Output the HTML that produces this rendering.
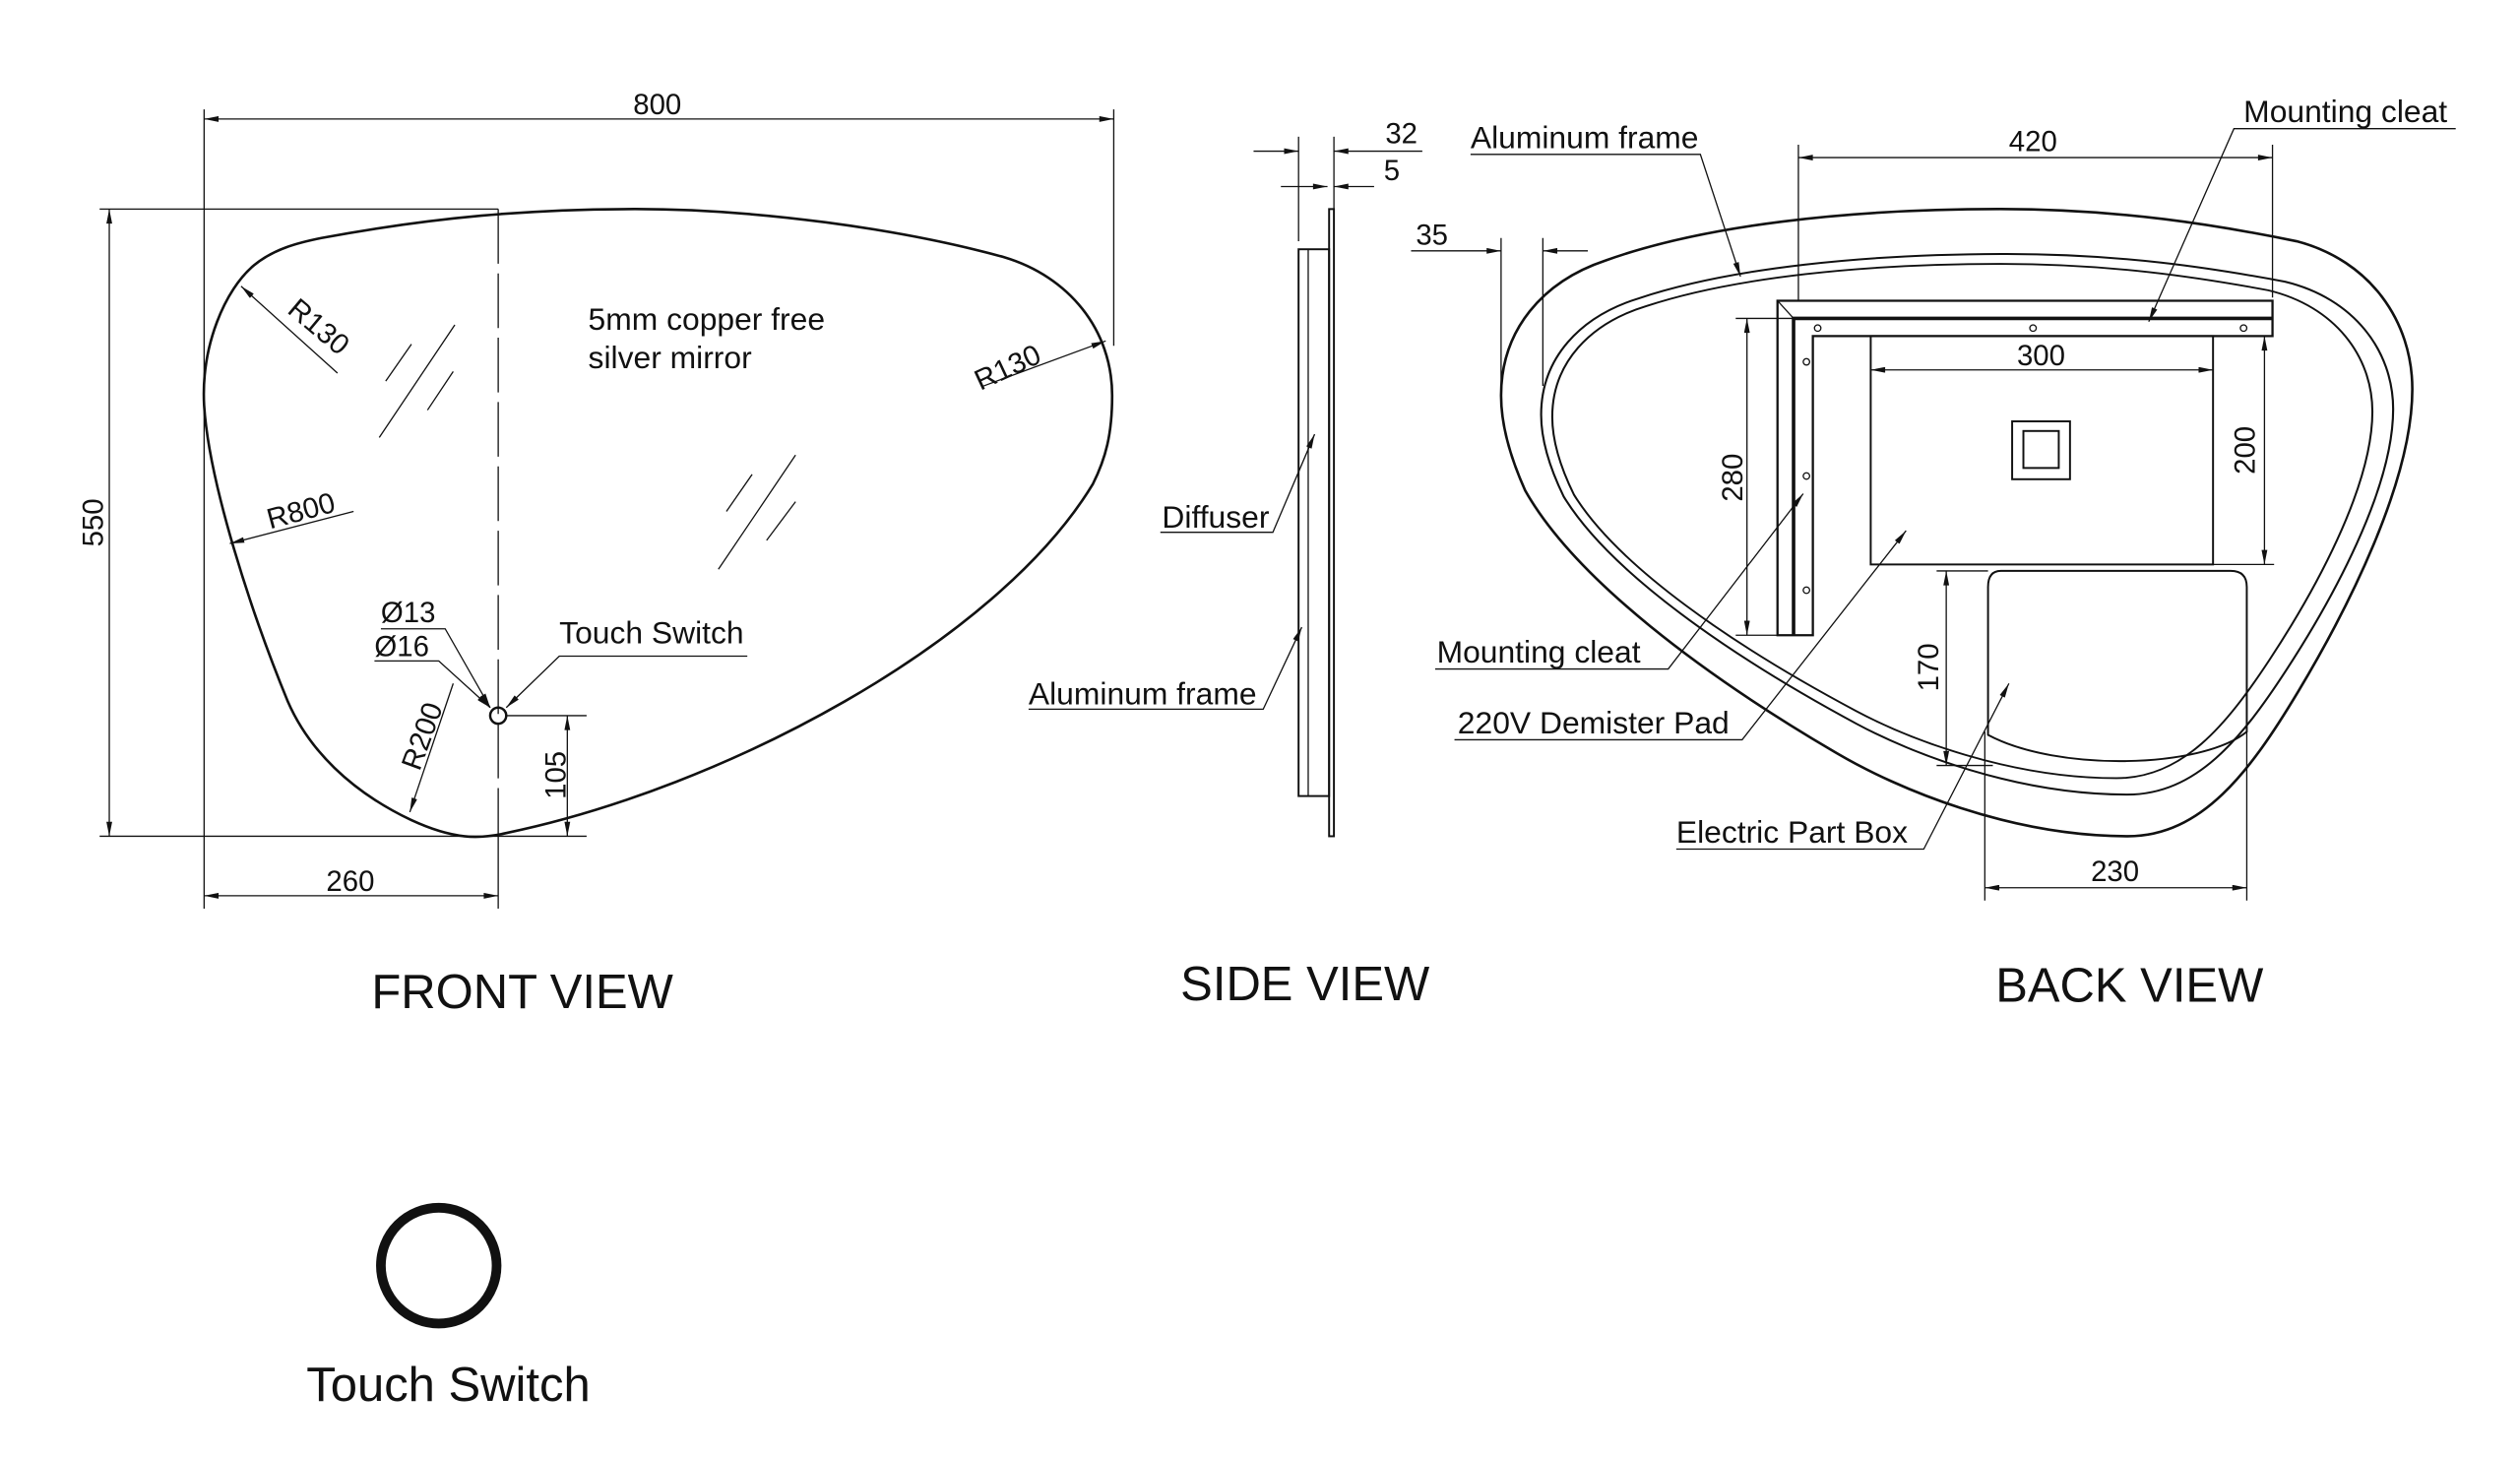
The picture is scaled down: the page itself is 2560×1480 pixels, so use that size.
<!DOCTYPE html>
<html><head><meta charset="utf-8"><style>
html,body{margin:0;padding:0;background:#fff;}
svg{display:block;}
text{font-family:"Liberation Sans",sans-serif;fill:#111;}
</style></head><body>
<svg width="2560" height="1480" viewBox="0 0 1568 906" preserveAspectRatio="none" xmlns="http://www.w3.org/2000/svg">
<defs>
<marker id="a" viewBox="0 0 10 4" refX="10" refY="2" markerWidth="10" markerHeight="3.6" markerUnits="userSpaceOnUse" orient="auto-start-reverse"><path d="M0,0 L10,2 L0,4z" fill="#111"/></marker>
<path id="shape" d="M999,162 C1060,140 1150,130 1244,130 C1320,130 1380,140 1429,150 C1475,162 1501,200 1501,242 C1501,300 1460,380 1430,430 C1400,480 1370,520 1324,520 C1250,520 1180,490 1144,469 C1060,420 980,360 949,305 C940,285 934,265 934,246 C934,205 960,175 999,162 Z"/>
</defs>
<rect width="1568" height="906" fill="#fff"/>
<g fill="none" stroke="#111" stroke-width="0.8">
<path d="M200,148 C270,135 330,130 395,130 C470,130 560,142 625,160 C665,172 692,205 692,246 C692,270 688,285 680,301 C620,400 450,490 315,518 C298,522 282,522 256,510 C218,492 192,466 179,436 C156,380 130,300 127,252 C125,215 140,180 158,165 C170,155 185,151 200,148 Z" stroke-width="1.6"/>
<line x1="310" y1="130" x2="310" y2="520" stroke-dasharray="34,6"/>
<line x1="127" y1="68" x2="127" y2="565"/>
<line x1="693" y1="68" x2="693" y2="215"/>
<line x1="127" y1="74" x2="693" y2="74" marker-start="url(#a)" marker-end="url(#a)"/>
<line x1="62" y1="130" x2="310" y2="130"/>
<line x1="62" y1="520" x2="365" y2="520"/>
<line x1="68" y1="130" x2="68" y2="520" marker-start="url(#a)" marker-end="url(#a)"/>
<line x1="310" y1="520" x2="310" y2="565"/>
<line x1="127" y1="557" x2="310" y2="557" marker-start="url(#a)" marker-end="url(#a)"/>
<circle cx="310" cy="445" r="5" stroke-width="1.5"/>
<line x1="315" y1="445" x2="365" y2="445"/>
<line x1="353" y1="445" x2="353" y2="520" marker-start="url(#a)" marker-end="url(#a)"/>
<polyline points="237,391 277,391 305,440" marker-end="url(#a)"/>
<polyline points="233,411 273,411 305,440" marker-end="url(#a)"/>
<polyline points="465,408 348,408 315,440" marker-end="url(#a)"/>
<line x1="210" y1="232" x2="150" y2="178" marker-end="url(#a)"/>
<line x1="612" y1="240" x2="688" y2="212" marker-end="url(#a)"/>
<line x1="220" y1="318" x2="143" y2="338" marker-end="url(#a)"/>
<line x1="282" y1="425" x2="255" y2="505" marker-end="url(#a)"/>
<line x1="240" y1="237" x2="256" y2="214"/><line x1="236" y1="272" x2="283" y2="202"/><line x1="266" y1="255" x2="282" y2="231"/>
<line x1="452" y1="318" x2="468" y2="295"/><line x1="447" y1="354" x2="495" y2="283"/><line x1="477" y1="336" x2="495" y2="312"/>
<circle cx="273" cy="787" r="36" stroke-width="6"/>
<rect x="827" y="130" width="3" height="390" stroke-width="1.2"/>
<rect x="808" y="155" width="19" height="340" stroke-width="1.2"/>
<line x1="814" y1="155" x2="814" y2="495"/>
<line x1="808" y1="85" x2="808" y2="150"/>
<line x1="830" y1="85" x2="830" y2="130"/>
<line x1="780" y1="94" x2="808" y2="94" marker-end="url(#a)"/>
<line x1="885" y1="94" x2="830" y2="94" marker-end="url(#a)"/>
<line x1="797" y1="116" x2="826" y2="116" marker-end="url(#a)"/>
<line x1="855" y1="116" x2="830" y2="116" marker-end="url(#a)"/>
<polyline points="722,331 792,331 818,270" marker-end="url(#a)"/>
<polyline points="640,441 786,441 810,390" marker-end="url(#a)"/>
<use href="#shape" stroke-width="1.6"/>
<use href="#shape" transform="translate(1224,326) scale(0.935,0.862) translate(-1217.5,-325)" vector-effect="non-scaling-stroke" stroke-width="1.4"/>
<use href="#shape" transform="translate(1221,324) scale(0.9,0.82) translate(-1217.5,-325)" vector-effect="non-scaling-stroke" stroke-width="1.4"/>
<path d="M1106,187 H1414 V209 H1128 V395 H1106 Z" stroke-width="1.4"/>
<path d="M1116,395 V198 H1414" stroke-width="2.2"/>
<line x1="1106" y1="187" x2="1116" y2="198"/>
<g stroke-width="0.8"><circle cx="1131" cy="204" r="2"/><circle cx="1265" cy="204" r="2"/><circle cx="1396" cy="204" r="2"/><circle cx="1124" cy="225" r="2"/><circle cx="1124" cy="296" r="2"/><circle cx="1124" cy="367" r="2"/></g>
<rect x="1164" y="209" width="213" height="142" stroke-width="1.2"/>
<rect x="1252" y="262" width="36" height="36" stroke-width="1.2"/>
<rect x="1259" y="268" width="22" height="23" stroke-width="1.2"/>
<line x1="1164" y1="230" x2="1377" y2="230" marker-start="url(#a)" marker-end="url(#a)"/>
<line x1="1377" y1="351" x2="1415" y2="351"/>
<line x1="1409" y1="209" x2="1409" y2="351" marker-start="url(#a)" marker-end="url(#a)"/>
<line x1="1080" y1="198" x2="1116" y2="198"/>
<line x1="1080" y1="395" x2="1106" y2="395"/>
<line x1="1087" y1="198" x2="1087" y2="395" marker-start="url(#a)" marker-end="url(#a)"/>
<path d="M1245,355 H1388 Q1398,355 1398,365 V455 C1370,478 1280,480 1237,457 V365 Q1237,355 1245,355 Z" stroke-width="1.2"/>
<line x1="1205" y1="355" x2="1237" y2="355"/>
<line x1="1205" y1="476" x2="1240" y2="476"/>
<line x1="1211" y1="355" x2="1211" y2="476" marker-start="url(#a)" marker-end="url(#a)"/>
<line x1="1235" y1="455" x2="1235" y2="560"/>
<line x1="1398" y1="455" x2="1398" y2="560"/>
<line x1="1235" y1="552" x2="1398" y2="552" marker-start="url(#a)" marker-end="url(#a)"/>
<line x1="1119" y1="90" x2="1119" y2="187"/>
<line x1="1414" y1="90" x2="1414" y2="185"/>
<line x1="1119" y1="98" x2="1414" y2="98" marker-start="url(#a)" marker-end="url(#a)"/>
<line x1="934" y1="148" x2="934" y2="246"/>
<line x1="960" y1="148" x2="960" y2="240"/>
<line x1="878" y1="156" x2="934" y2="156" marker-end="url(#a)"/>
<line x1="988" y1="156" x2="960" y2="156" marker-end="url(#a)"/>
<polyline points="915,96 1058,96 1083,172" marker-end="url(#a)"/>
<polyline points="1528,80 1390,80 1337,200" marker-end="url(#a)"/>
<polyline points="893,416 1038,416 1122,307" marker-end="url(#a)"/>
<polyline points="905,460 1084,460 1186,330" marker-end="url(#a)"/>
<polyline points="1043,528 1197,528 1250,425" marker-end="url(#a)"/>
</g>
<g font-size="18">
<text x="409" y="71" text-anchor="middle">800</text>
<text transform="translate(64,325) rotate(-90)" text-anchor="middle">550</text>
<text x="218" y="554" text-anchor="middle">260</text>
<text transform="translate(352,482) rotate(-90)" text-anchor="middle">105</text>
<text x="237" y="387">Ø13</text>
<text x="233" y="408">Ø16</text>
<text transform="translate(178,194) rotate(40)">R130</text>
<text transform="translate(610,243) rotate(-25)">R130</text>
<text transform="translate(168,329) rotate(-15)">R800</text>
<text transform="translate(261,480) rotate(-70)">R200</text>
<text x="872" y="89" text-anchor="middle">32</text>
<text x="866" y="112" text-anchor="middle">5</text>
<text x="1265" y="94" text-anchor="middle">420</text>
<text x="1270" y="227" text-anchor="middle">300</text>
<text x="891" y="152" text-anchor="middle">35</text>
<text x="1316" y="548" text-anchor="middle">230</text>
<text transform="translate(1403,280) rotate(-90)" text-anchor="middle">200</text>
<text transform="translate(1084,297) rotate(-90)" text-anchor="middle">280</text>
<text transform="translate(1206,415) rotate(-90)" text-anchor="middle">170</text>
</g>
<g font-size="19.5">
<text x="348" y="400">Touch Switch</text>
<text x="366" y="205">5mm copper free</text>
<text x="366" y="229">silver mirror</text>
<text x="723" y="328">Diffuser</text>
<text x="640" y="438">Aluminum frame</text>
<text x="915" y="92">Aluminum frame</text>
<text x="1396" y="76">Mounting cleat</text>
<text x="894" y="412">Mounting cleat</text>
<text x="907" y="456">220V Demister Pad</text>
<text x="1043" y="524">Electric Part Box</text>
</g>
<g font-size="30">
<text x="325" y="627" text-anchor="middle">FRONT VIEW</text>
<text x="812" y="622" text-anchor="middle">SIDE VIEW</text>
<text x="1325" y="623" text-anchor="middle">BACK VIEW</text>
<text x="279" y="871" text-anchor="middle">Touch Switch</text>
</g>
</svg>
</body></html>
